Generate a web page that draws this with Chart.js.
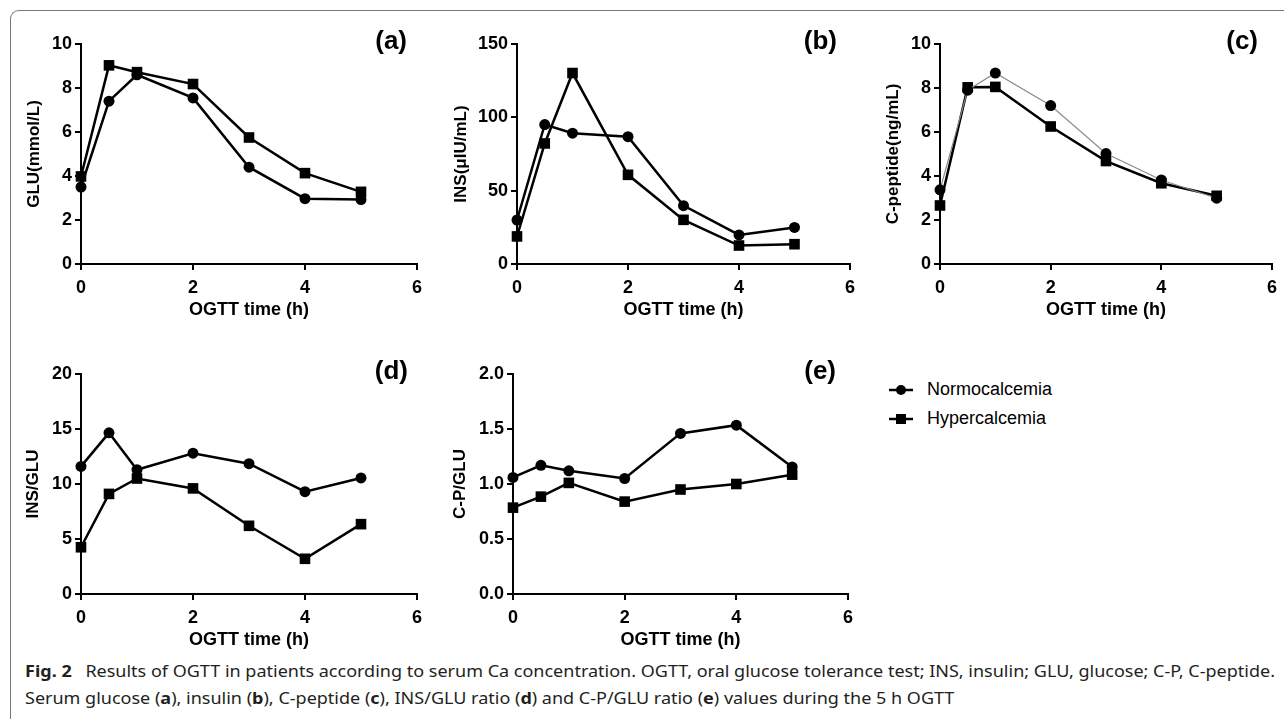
<!DOCTYPE html>
<html>
<head>
<meta charset="utf-8">
<script src="https://cdn.jsdelivr.net/npm/chart.js@4.4.1/dist/chart.umd.min.js"></script>
<style>
  body { margin: 0; width: 1284px; height: 719px; overflow: hidden; background: #fff; position: relative; font-family: Arial, "Liberation Sans", sans-serif; }
  .frame { position: absolute; left: 10px; top: 10px; width: 1300px; height: 720px; border-left: 1px solid #777; border-top: 1px solid #777; border-top-left-radius: 9px; }
  canvas { position: absolute; }
  .legend { position: absolute; left: 888px; top: 375px; font-size: 18px; color: #000; }
  .legend div { height: 29px; display: flex; align-items: center; }
  .legend svg { margin-right: 13px; }
  .caption { position: absolute; left: 25px; top: 658px; font-family: "Noto Sans", sans-serif; font-size: 16px; line-height: 27px; color: #231f20; white-space: nowrap; transform-origin: 0 0; }
  .caption span.fig { font-weight: bold; margin-right: 8px; }
</style>
</head>
<body>
<div class="frame"></div>

<div class="legend">
  <div><svg width="26" height="14"><line x1="1" y1="7" x2="25" y2="7" stroke="#000" stroke-width="2.5"/><circle cx="13" cy="7" r="5" fill="#000"/></svg>Normocalcemia</div>
  <div><svg width="26" height="14"><line x1="1" y1="7" x2="25" y2="7" stroke="#000" stroke-width="2.5"/><rect x="8" y="2" width="10" height="10" fill="#000"/></svg>Hypercalcemia</div>
</div>

<div class="caption" id="caption">
  <div><span id="cap1"><span class="fig">Fig. 2</span> Results of OGTT in patients according to serum Ca concentration. OGTT, oral glucose tolerance test; INS, insulin; GLU, glucose; C-P, C-peptide.</span></div>
  <div>Serum glucose (<b>a</b>), insulin (<b>b</b>), C-peptide (<b>c</b>), INS/GLU ratio (<b>d</b>) and C-P/GLU ratio (<b>e</b>) values during the 5 h OGTT</div>
</div>

<script>
// OGTT sampling times (h)
const hours = [0, 0.5, 1, 2, 3, 4, 5];
const seriesNames = ["Normocalcemia", "Hypercalcemia"];

// (a) glucose, mmol/L
const gluNormo = [3.5, 7.4, 8.6, 7.55, 4.4, 2.97, 2.93];
const gluHyper = [3.98, 9.03, 8.72, 8.18, 5.75, 4.13, 3.28];
// (b) insulin, uIU/mL
const insNormo = [30, 95.1, 89.2, 86.8, 39.8, 19.8, 24.9];
const insHyper = [18.8, 82.2, 130.2, 60.8, 30.1, 12.6, 13.5];
// (c) C-peptide, ng/mL
const cpepNormo = [3.37, 7.9, 8.68, 7.2, 5.02, 3.82, 2.99];
const cpepHyper = [2.66, 8.03, 8.05, 6.25, 4.68, 3.67, 3.1];
// (d) INS/GLU
const insGluNormo = [11.6, 14.65, 11.3, 12.8, 11.85, 9.3, 10.55];
const insGluHyper = [4.25, 9.1, 10.5, 9.6, 6.2, 3.2, 6.35];
// (e) C-P/GLU
const cpGluNormo = [1.06, 1.17, 1.12, 1.05, 1.46, 1.535, 1.155];
const cpGluHyper = [0.785, 0.885, 1.01, 0.84, 0.95, 1.0, 1.085];

const xTitle = "OGTT time (h)";

Chart.defaults.font.family = 'Arial, "Liberation Sans", sans-serif';

// draws the "(a)" style label at the top right of each panel
const panelLabel = {
  id: "panelLabel",
  afterDraw(chart, args, o) {
    const { ctx, chartArea } = chart;
    ctx.save();
    ctx.font = 'bold 26px Arial, "Liberation Sans", sans-serif';
    ctx.textAlign = "right";
    ctx.textBaseline = "middle";
    ctx.fillStyle = "#000";
    ctx.fillText(o.text, chartArea.right - o.dx, chartArea.top - 2);
    ctx.restore();
  },
};

function points(values) {
  return hours.map((h, i) => ({ x: h, y: values[i] }));
}

function drawPanel(p) {
  const canvas = document.createElement("canvas");
  const width = p.right + p.padRight - p.left;
  const height = 14 + 220 + 57;
  canvas.width = width;
  canvas.height = height;
  canvas.style.left = p.left + "px";
  canvas.style.top = p.top + "px";
  document.body.appendChild(canvas);

  const axisGrid = { drawOnChartArea: false, drawTicks: true, tickLength: 6, color: "#000", lineWidth: 2, tickWidth: 2 };
  const axisBorder = { color: "#000", width: 2 };

  new Chart(canvas.getContext("2d"), {
    type: "scatter",
    data: {
      datasets: [
        {
          label: seriesNames[0],
          data: points(p.normo),
          showLine: true,
          borderColor: p.thinNormo ? "#8a8a8a" : "#000",
          borderWidth: p.thinNormo ? 1.2 : 2.5,
          pointStyle: "circle",
          pointRadius: 5.5,
          pointHoverRadius: 5.5,
          pointBackgroundColor: "#000",
          pointBorderColor: "#000",
          pointBorderWidth: 0,
          clip: false,
        },
        {
          label: seriesNames[1],
          data: points(p.hyper),
          showLine: true,
          borderColor: "#000",
          borderWidth: 2.5,
          pointStyle: "rect",
          pointRadius: 7.5,
          pointHoverRadius: 7.5,
          pointBackgroundColor: "#000",
          pointBorderColor: "#000",
          pointBorderWidth: 0,
          clip: false,
        },
      ],
    },
    options: {
      responsive: false,
      animation: false,
      devicePixelRatio: 1,
      layout: { padding: { top: 14, right: p.padRight, bottom: 0, left: 0 } },
      plugins: {
        legend: { display: false },
        tooltip: { enabled: false },
        panelLabel: { text: p.label, dx: p.dx },
      },
      scales: {
        x: {
          type: "linear",
          min: 0,
          max: 6,
          ticks: { stepSize: 2, color: "#000", font: { size: 18, weight: "bold" }, padding: 7, maxRotation: 0 },
          grid: axisGrid,
          border: axisBorder,
          title: { display: true, text: xTitle, color: "#000", font: { size: 18, weight: "bold" }, padding: 0 },
          afterFit(scale) { scale.height = 57; },
        },
        y: {
          min: 0,
          max: p.yMax,
          ticks: {
            stepSize: p.yStep,
            color: "#000",
            font: { size: 18, weight: "bold" },
            padding: 3,
            callback: (v) => (p.decimals ? v.toFixed(p.decimals) : v),
          },
          grid: axisGrid,
          border: axisBorder,
          title: { display: true, text: p.yTitle, color: "#000", font: { size: 17, weight: "bold" }, padding: 0 },
          afterFit(scale) { scale.width = p.axisX - p.left; },
        },
      },
    },
    plugins: [panelLabel],
  });
}

drawPanel({ label: "(a)", dx: 10, left: 24, axisX: 81, right: 417, padRight: 20, top: 30, yMax: 10, yStep: 2, yTitle: "GLU(mmol/L)", normo: gluNormo, hyper: gluHyper });
drawPanel({ label: "(b)", dx: 13, left: 451, axisX: 517, right: 850, padRight: 20, top: 30, yMax: 150, yStep: 50, yTitle: "INS(μIU/mL)", normo: insNormo, hyper: insHyper });
drawPanel({ label: "(c)", dx: 14, left: 883, axisX: 940, right: 1275, padRight: 9, top: 30, yMax: 10, yStep: 2, yTitle: "C-peptide(ng/mL)", normo: cpepNormo, hyper: cpepHyper, thinNormo: true });
drawPanel({ label: "(d)", dx: 9, left: 23, axisX: 81, right: 417, padRight: 20, top: 360, yMax: 20, yStep: 5, yTitle: "INS/GLU", normo: insGluNormo, hyper: insGluHyper });
drawPanel({ label: "(e)", dx: 12, left: 450, axisX: 513, right: 848, padRight: 20, top: 360, yMax: 2, yStep: 0.5, decimals: 1, yTitle: "C-P/GLU", normo: cpGluNormo, hyper: cpGluHyper });

// squeeze the caption so its first line spans the same width as the original
const cap = document.getElementById("caption");
const w = document.getElementById("cap1").getBoundingClientRect().width;
cap.style.transform = "scaleX(" + (1250 / w).toFixed(4) + ")";
</script>
</body>
</html>
